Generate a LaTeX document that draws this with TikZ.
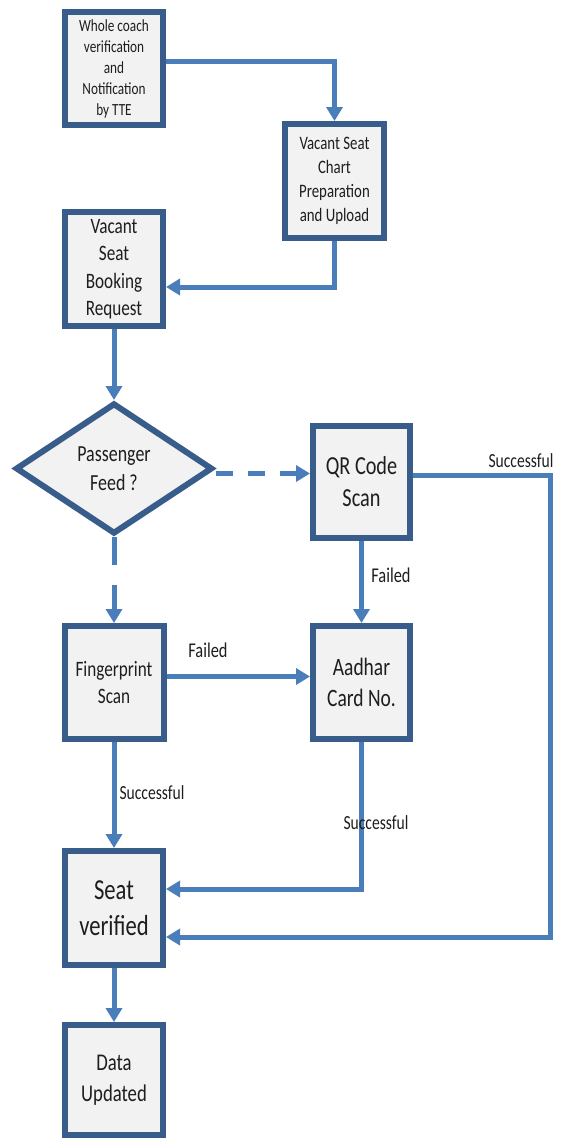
\documentclass[tikz,border=0pt]{standalone}
\usepackage{fontspec}
\setmainfont[FakeStretch=0.78]{Carlito}
\usetikzlibrary{arrows.meta,shapes.geometric}
\definecolor{lineblue}{HTML}{4A7EBB}
\definecolor{boxblue}{HTML}{385D8A}
\definecolor{boxfill}{HTML}{F2F2F2}
\definecolor{txt}{HTML}{1E1E1E}
\newcommand{\fs}[2]{\fontsize{#1pt}{#2pt}\selectfont}
\tikzset{
  box/.style={draw=boxblue, line width=6pt, fill=boxfill, align=center, text=txt, inner sep=0pt},
  conn/.style={draw=lineblue, line width=5pt, -{Triangle[width=16pt,length=14pt]}},
  lbl/.style={text=txt, inner sep=0pt, font=\fs{20}{24}}
}
\begin{document}
\begin{tikzpicture}[x=1pt,y=1pt]
\useasboundingbox (0,0) rectangle (560,-1140);
\node[box, minimum width=98pt, minimum height=113pt, font=\fs{17}{21}] (b1) at (114,-68.5)
  {Whole coach\\verification\\and\\Notification\\by TTE};
\node[box, minimum width=99pt, minimum height=114pt, font=\fs{19}{24}] (b2) at (334.5,-181)
  {Vacant Seat\\Chart\\Preparation\\and Upload};
\node[box, minimum width=98pt, minimum height=114pt, font=\fs{22}{27.5}] (b3) at (114,-269)
  {Vacant\\Seat\\Booking\\Request};
\node[diamond, draw=boxblue, line width=6pt, fill=boxfill, align=center, text=txt, inner sep=0pt,
  minimum width=197pt, minimum height=131pt, font=\fs{23}{29}] (dia) at (114,-468.5)
  {Passenger\\Feed ?};
\node[box, minimum width=97pt, minimum height=112pt, font=\fs{26}{32}] (qr) at (361.5,-482)
  {QR Code\\Scan};
\node[box, minimum width=99pt, minimum height=113pt, font=\fs{22}{27}] (fp) at (114,-682.5)
  {Fingerprint\\Scan};
\node[box, minimum width=97pt, minimum height=113pt, font=\fs{25}{31}] (ad) at (361.5,-682.5)
  {Aadhar\\Card No.};
\node[box, minimum width=98pt, minimum height=114pt, font=\fs{29}{36}] (sv) at (114,-908)
  {Seat\\verified};
\node[box, minimum width=98pt, minimum height=110pt, font=\fs{24}{31}] (du) at (114,-1080)
  {Data\\Updated};
\coordinate (rc) at (550,-475);
% connectors
\draw[conn] ([yshift=6.5pt]b1.east) -| (b2.north);
\draw[conn] (b2.south) |- ([yshift=-18pt]b3.east);
\draw[conn] (b3.south) -- (dia.north);
\draw[conn, dash pattern=on 17pt off 15pt] ([yshift=-5pt]dia.east) -- ([yshift=-5pt]dia.east -| qr.west);
\draw[conn, dash pattern=on 28pt off 20pt] (dia.south) -- (fp.north);
\draw[conn] ([yshift=7pt]qr.east) -- (rc) |- ([yshift=-29pt]sv.east);
\draw[conn] (qr.south) -- (ad.north);
\draw[conn] ([yshift=6pt]fp.east) -- ([yshift=6pt]fp.east -| ad.west);
\draw[conn] (fp.south) -- (sv.north);
\draw[conn] (ad.south) |- ([yshift=19pt]sv.east);
\draw[conn] (sv.south) -- (du.north);
% labels
\node[lbl] (l1) at (521,-461) {Successful};
\node[lbl, font=\fs{21}{25}] (l2) at (391,-575) {Failed};
\node[lbl, font=\fs{21}{25}] (l3) at (208,-650) {Failed};
\node[lbl] (l4) at (152,-793) {Successful};
\node[lbl] (l5) at (376,-823) {Successful};
\end{tikzpicture}
\end{document}
